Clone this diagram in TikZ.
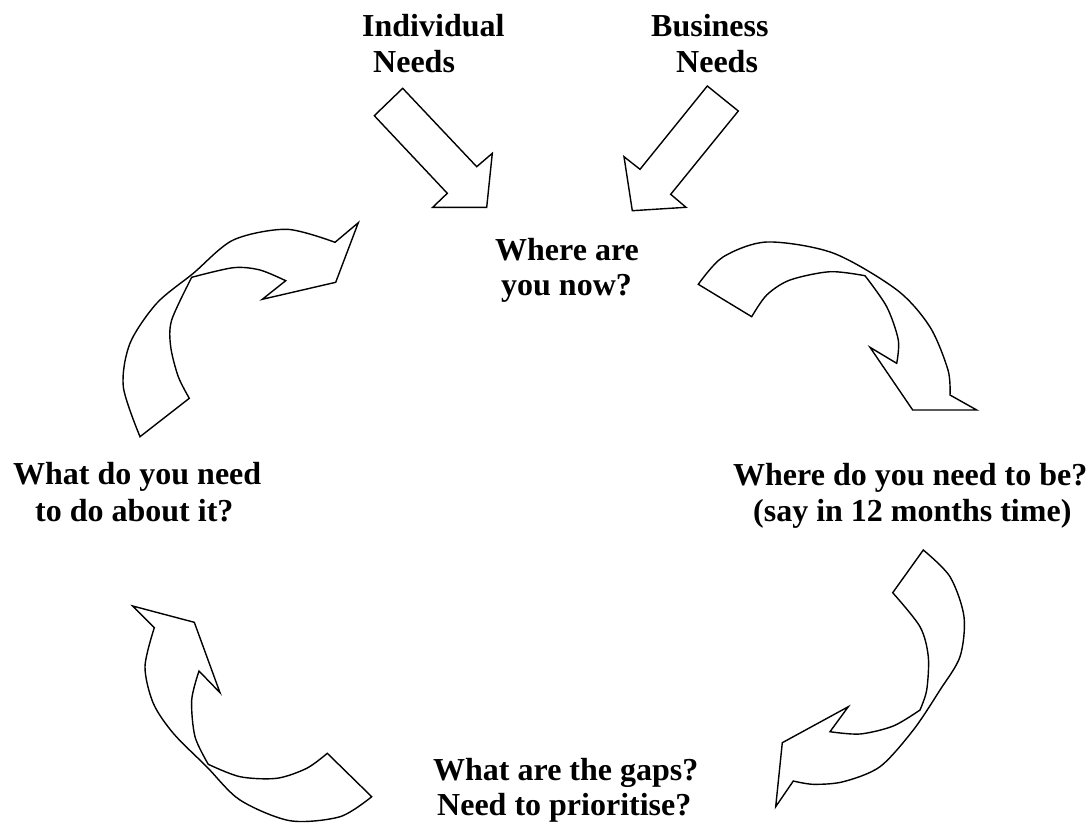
\documentclass[tikz,border=0pt]{standalone}
\usepackage{fontspec}
\setmainfont{Liberation Serif}
\begin{document}
\begin{tikzpicture}[x=1pt,y=-1pt,
  lbl/.style={anchor=base west,inner sep=0pt,font=\fontsize{32}{36}\selectfont\bfseries},
  shape line/.style={draw=black,line width=1.4pt,line join=miter}]
\useasboundingbox (0,0) rectangle (1088,823);
% texts
\node[lbl] (ind1) at (362,36.7) {Individual};
\node[lbl] (ind2) at (373,72.7) {Needs};
\node[lbl] (bus1) at (651,36) {Business};
\node[lbl] (bus2) at (676,72.7) {Needs};
\node[lbl] (now1) at (495,260) {Where are};
\node[lbl] (now2) at (501,295.5) {you now?};
\node[lbl] (do1) at (13,484.3) {What do you need};
\node[lbl] (do2) at (35,521.7) {to do about it?};
\node[lbl] (be1) at (733,485) {Where do you need to be?};
\node[lbl] (be2) at (753,521.7) {(say in 12 months time)};
\node[lbl] (gap1) at (433,780) {What are the gaps?};
\node[lbl] (gap2) at (437,815) {Need to prioritise?};
% straight arrows
\draw[shape line] (402.7,88.3) -- (476.7,166.7) -- (492.3,153.3) -- (486.7,207.3)
  -- (432.7,207.3) -- (447.3,193.3) -- (374.3,115.7) -- cycle;
\draw[shape line] (707.3,86) -- (640,169.3) -- (624,156.7) -- (632.3,210.7)
  -- (686,207.3) -- (670.7,194.3) -- (738.3,111) -- cycle;
% top right curved arrow
\draw[shape line] plot[smooth] coordinates {(698.3,284.3) (723,257) (767,242) (833,253) (897,290) (930,327) (948,370) (950,395)}
  -- (976.7,410) -- (912.7,410) -- (870,347.3) -- (896.7,363.3)
  -- plot[smooth] coordinates {(896.7,363.3) (898.3,340) (886.7,306.7) (865,275.7)}
  -- plot[smooth] coordinates {(865,275.7) (830,271.7) (790,280) (766.7,295) (751.7,316.7)}
  -- cycle;
% top left curved arrow
\draw[shape line] plot[smooth] coordinates {(140,436.7) (123.3,386.7) (130,343.3) (156.7,303.3) (193.3,273.3) (233.3,240) (286.7,229.3) (335,242.3)}
  -- (358.3,222.7) -- (335.7,282.3) -- (262.3,299.3) -- (285.7,280.7)
  -- plot[smooth] coordinates {(285.7,280.7) (260,270) (233.3,267.7) (191.7,277.3)}
  -- plot[smooth] coordinates {(191.7,277.3) (171.7,320) (170.7,346.7) (178.3,376.7) (189.3,398.3)}
  -- cycle;
% bottom right curved arrow
\draw[shape line] plot[smooth] coordinates {(923.3,550) (950,576.7) (964,616.7) (960,656.7) (940,690) (913.3,730) (880,766.7) (843.3,781.7) (813.3,784.3) (793.3,781)}
  -- (775.7,806.7) -- (782.3,742.7) -- (848.3,706.7) -- (830,731.7)
  -- plot[smooth] coordinates {(830,731.7) (860,734) (893.3,726) (920,710)}
  -- plot[smooth] coordinates {(920,710) (926.7,690) (928.3,656.7) (920,626.7) (892.7,592.7)}
  -- cycle;
% bottom left curved arrow
\draw[shape line] plot[smooth] coordinates {(371.7,796.7) (340,816.7) (290,820.7) (240,800) (206.7,766.7) (173.3,733.3) (153.3,703.3) (145,666.7) (154.3,627.7)}
  -- (132.7,606) -- (194.3,622.3) -- (220,692.7) -- (199,671)
  -- plot[smooth] coordinates {(199,671) (191.7,700) (195,736.7) (208.3,764.3)}
  -- plot[smooth] coordinates {(208.3,764.3) (240,776.7) (276.7,778.3) (306.7,768.3) (327.3,753.3)}
  -- cycle;
\end{tikzpicture}
\end{document}
